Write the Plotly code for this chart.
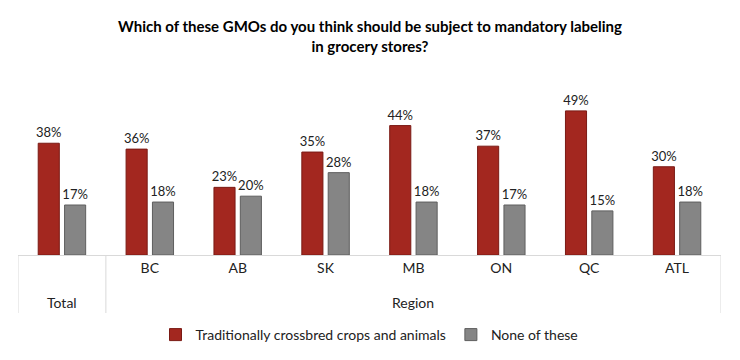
import plotly.graph_objects as go

categories = ["Total", "BC", "AB", "SK", "MB", "ON", "QC", "ATL"]
region_labels = ["BC", "AB", "SK", "MB", "ON", "QC", "ATL"]
group_labels = ["Total", "Region"]
crossbred = [38, 36, 23, 35, 44, 37, 49, 30]
none_of_these = [17, 18, 20, 28, 18, 17, 15, 18]
series_names = ["Traditionally crossbred crops and animals", "None of these"]
title_text = "Which of these GMOs do you think should be subject to mandatory labeling<br>in grocery stores?"

FONT = "Lato, Open Sans, sans-serif"
LINE = "#D9D9D9"
# the page body has an 8px margin; size the figure so it fits the 740x360 window
W, H = 724, 344
PLOT_H = 170

fig = go.Figure()
fig.add_trace(go.Bar(
    x=categories, y=crossbred, name=series_names[0],
    marker=dict(color="#A3271F", line=dict(color="#7A1A14", width=1)),
    text=[f"{v}%" for v in crossbred], textposition="outside", constraintext="none",
    textfont=dict(size=13, color="#222"), cliponaxis=False,
))
fig.add_trace(go.Bar(
    x=categories, y=none_of_these, name=series_names[1],
    marker=dict(color="#858585", line=dict(color="#5E5E5E", width=1)),
    text=[f"{v}%" for v in none_of_these], textposition="outside", constraintext="none",
    textfont=dict(size=13, color="#222"), cliponaxis=False,
))

n = len(categories)
fig.add_annotation(x=categories[0], y=-47 / PLOT_H, xref="x", yref="paper",
                   text=group_labels[0], showarrow=False, font=dict(size=14), yanchor="middle")
fig.add_annotation(x=(1 + n - 1) / 2, y=-47 / PLOT_H, xref="x", yref="paper",
                   text=group_labels[1], showarrow=False, font=dict(size=14), yanchor="middle")
for xv in [-0.5, 0.5, n - 0.5]:
    fig.add_shape(type="line", xref="x", yref="paper", x0=xv, x1=xv, y0=0, y1=-58 / PLOT_H,
                  line=dict(color=LINE, width=1))

fig.update_layout(
    width=W, height=H,
    margin=dict(l=10, r=11, t=77, b=H - 77 - PLOT_H, autoexpand=False),
    paper_bgcolor="white", plot_bgcolor="white",
    font=dict(family=FONT, size=13, color="#222"),
    title=dict(text=f"<b>{title_text}</b>", x=0.5, xanchor="center", y=1 - 24 / H, yanchor="middle",
               font=dict(size=15, color="#000", family=FONT)),
    barmode="group", bargap=0.4, bargroupgap=0.2,
    showlegend=True,
    legend=dict(orientation="h", x=0.5, xanchor="center", y=-80 / PLOT_H, yanchor="middle",
                font=dict(size=14), traceorder="normal"),
    xaxis=dict(type="category", range=[-0.5, n - 0.5], showline=True, linecolor=LINE, linewidth=1,
               tickvals=region_labels, ticktext=region_labels,
               tickfont=dict(size=14), ticks="",
               showgrid=False, automargin=False),
    yaxis=dict(range=[0, 57.8], visible=False, showgrid=False, zeroline=False, automargin=False),
)

fig.write_html("out.html")
